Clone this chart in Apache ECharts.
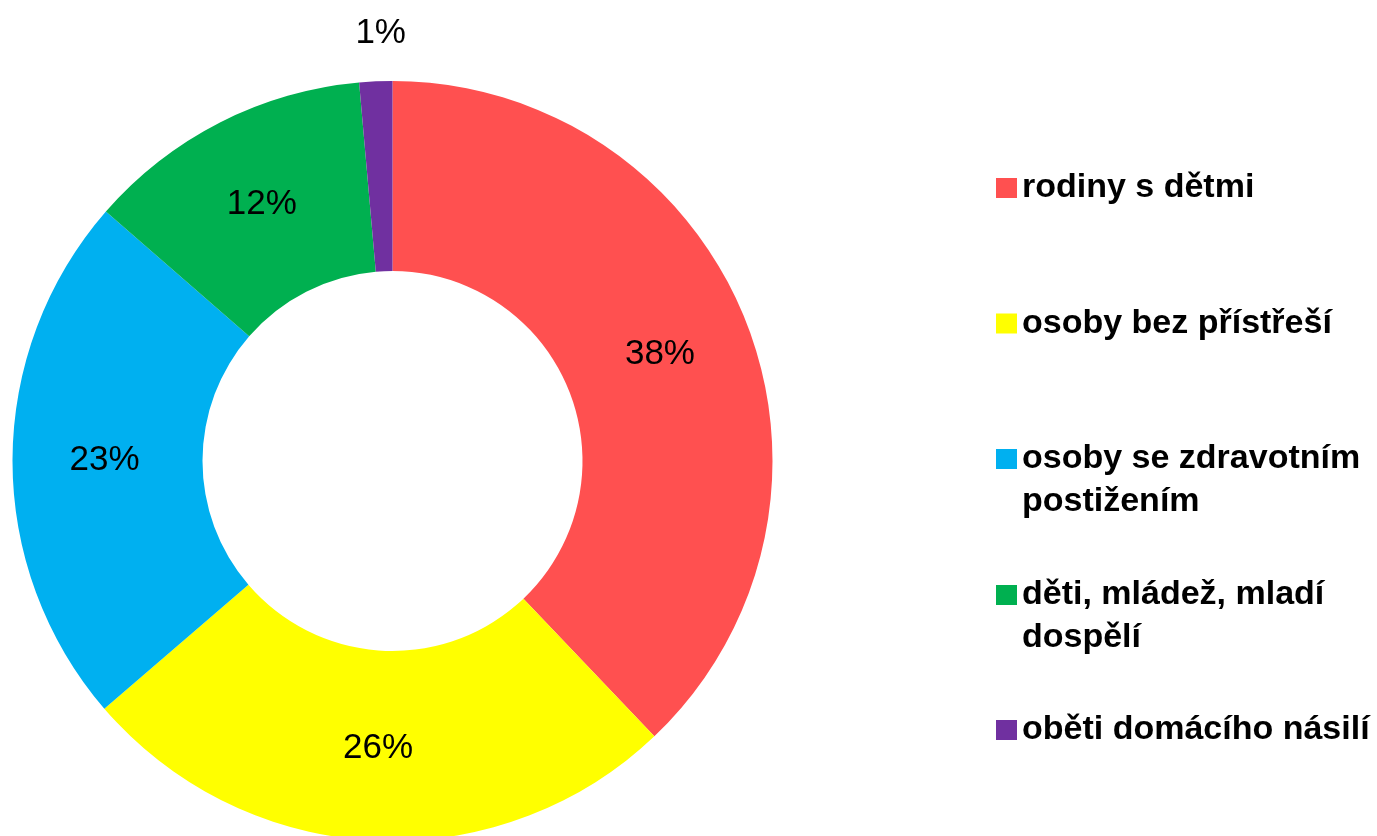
<!DOCTYPE html>
<html>
<head>
<meta charset="utf-8">
<script src="https://cdn.jsdelivr.net/npm/echarts@6/dist/echarts.min.js"></script>
<style>
html,body{margin:0;padding:0;background:#fff;}
#chart{width:1377px;height:836px;}
</style>
</head>
<body>
<div id="chart"></div>
<script>
const categories = ['rodiny s dětmi', 'osoby bez přístřeší', 'osoby se zdravotním\npostižením', 'děti, mládež, mladí\ndospělí', 'oběti domácího násilí'];
const values = [37.9, 25.8, 22.7, 12.2, 1.4];
const colors = ['#FF5050', '#FFFF00', '#00B0F0', '#00B050', '#7030A0'];
const legendCenters = [188, 323.5, 459, 595, 730];

const chart = echarts.init(document.getElementById('chart'), null, {renderer: 'canvas'});
const FONT = "'Liberation Sans', Arial, sans-serif";
const LH = 43;

const legends = categories.map((name, i) => {
  const lines = name.split('\n').length;
  // pad with leading empty lines so the icon lines up with the first text line
  const totalLines = 2 * lines - 1;
  return {
    orient: 'vertical',
    left: 996,
    top: legendCenters[i] - (LH * totalLines) / 2,
    padding: 0,
    itemWidth: 21,
    itemHeight: 20,
    icon: 'rect',
    selectedMode: false,
    data: [name],
    formatter: n => '\n'.repeat(lines - 1) + n,
    textStyle: {
      fontFamily: FONT,
      fontSize: 34,
      fontWeight: 'bold',
      color: '#000',
      lineHeight: LH
    }
  };
});

chart.setOption({
  animation: false,
  backgroundColor: '#fff',
  color: colors,
  legend: legends,
  series: [{
    type: 'pie',
    center: [392.5, 461],
    radius: [190, 380],
    startAngle: 90,
    clockwise: true,
    avoidLabelOverlap: false,
    data: categories.map((c, i) => ({
      name: c,
      value: values[i],
      itemStyle: {color: colors[i]},
      label: i === 4 ? {position: 'outside'} : {position: 'inside'},
      labelLine: {show: false, length: 48, length2: 0}
    })),
    label: {
      formatter: p => Math.round(p.percent) + '%',
      fontFamily: FONT,
      fontSize: 35,
      color: '#000'
    },
    labelLayout: function (p) {
      if (p.dataIndex === 4) return {align: 'center', dx: 12};
    },
    emphasis: {disabled: true}
  }]
});
</script>
</body>
</html>
